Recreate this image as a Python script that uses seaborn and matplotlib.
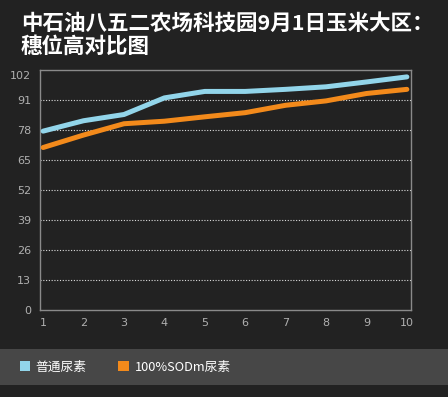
import matplotlib
matplotlib.use("Agg")
import matplotlib.pyplot as plt
import seaborn as sns
import pandas as pd
from matplotlib.patches import Rectangle, Patch

x_vals = [1, 2, 3, 4, 5, 6, 7, 8, 9, 10]
series_names = ["普通尿素", "100%SODm尿素"]
blue_vals = [77.5, 82.0, 84.7, 91.9, 94.7, 94.7, 95.6, 96.7, 98.8, 101.0]
orange_vals = [70.4, 75.8, 80.7, 81.8, 83.7, 85.5, 88.7, 90.6, 93.8, 95.6]
y_ticks = [0, 13, 26, 39, 52, 65, 78, 91, 102]
title_lines = ["中石油八五二农场科技园9月1日玉米大区：", "穗位高对比图"]

colors = {"普通尿素": "#92d5ea", "100%SODm尿素": "#f38a1b"}

df = pd.DataFrame({
    "x": x_vals * 2,
    "y": blue_vals + orange_vals,
    "series": [series_names[0]] * len(x_vals) + [series_names[1]] * len(x_vals),
})

sns.set_theme(style="dark")
plt.rcParams['font.family'] = ['Noto Sans CJK SC', 'DejaVu Sans']

bg = "#222222"
fig = plt.figure(figsize=(4.48, 3.97), dpi=100, facecolor=bg)
ax = fig.add_axes([39.5 / 448, 1 - 310 / 397, (410.5 - 39.5) / 448, (310 - 69.5) / 397])
ax.set_facecolor(bg)

sns.lineplot(data=df, x="x", y="y", hue="series", palette=colors, ax=ax,
             linewidth=3.6, legend=False, zorder=3)

ax.set_xlim(0.91, 10.09)
ax.set_ylim(0, 104.2)
ax.set_xticks(x_vals)
ax.set_xticklabels([str(v) for v in x_vals])
ax.set_yticks(y_ticks)
ax.set_yticklabels([str(v) for v in y_ticks])
ax.tick_params(axis="both", colors="#b0b0b0", labelsize=8, length=0, pad=6)
for lab in ax.get_xticklabels() + ax.get_yticklabels():
    lab.set_family("DejaVu Sans")
ax.set_xlabel("")
ax.set_ylabel("")
ax.grid(False)
for v in y_ticks[1:-1]:
    ax.axhline(v, color="#dddddd", linestyle=(0, (1, 1.5)), linewidth=0.8, zorder=1)
for s in ax.spines.values():
    s.set_color("#8a8a8a")
    s.set_linewidth(1.0)

fig.text(21 / 448, 1 - 23 / 397, title_lines[0], color="white", fontsize=15.5,
         fontweight="bold", va="center", ha="left")
fig.text(21 / 448, 1 - 46 / 397, title_lines[1], color="white", fontsize=15.5,
         fontweight="bold", va="center", ha="left")

fig.patches.append(Rectangle((0, 1 - 385 / 397), 1, 36 / 397, transform=fig.transFigure,
                             facecolor="#474747", edgecolor="none", zorder=0))

handles = [Patch(facecolor=colors[n], edgecolor="none", label=n) for n in series_names]
leg = fig.legend(handles=handles, loc="center left", bbox_to_anchor=(8 / 448, 1 - 367 / 397),
                 ncol=2, frameon=False, fontsize=9.2, handlelength=0.8, handleheight=0.8,
                 handletextpad=0.45, columnspacing=2.5)
for t in leg.get_texts():
    t.set_color("white")

fig.savefig("out.png", dpi=100, facecolor=bg)
